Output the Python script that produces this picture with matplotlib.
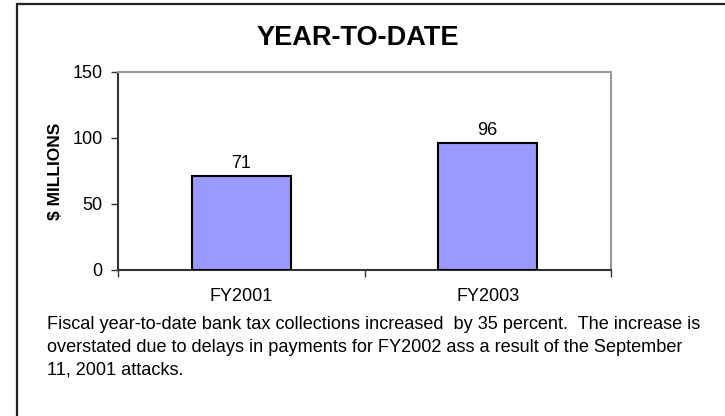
import matplotlib
matplotlib.use("Agg")
import matplotlib.pyplot as plt
from matplotlib.patches import Rectangle

plt.rcParams["font.family"] = ["Liberation Sans", "DejaVu Sans"]

# ── data ────────────────────────────────────────────────────────────────────
categories = ["FY2001", "FY2003"]
values = [71, 96]
y_ticks = [0, 50, 100, 150]

title = "YEAR-TO-DATE"
y_label = "$ MILLIONS"
caption = ("Fiscal year-to-date bank tax collections increased  by 35 percent.  The increase is\n"
           "overstated due to delays in payments for FY2002 ass a result of the September\n"
           "11, 2001 attacks.")

# ── figure ──────────────────────────────────────────────────────────────────
fig = plt.figure(figsize=(7.25, 4.16), dpi=100)
fig.patch.set_facecolor("white")

# outer frame (cut off at right and bottom like the original)
fig.patches.append(Rectangle((17 / 725, -0.2), 1.5, 1.2 - 4 / 416,
                             transform=fig.transFigure, fill=False,
                             edgecolor="#222222", linewidth=1.6, clip_on=False))

ax = fig.add_axes([118 / 725, 1 - 270 / 416, 493 / 725, 198 / 416])
x = range(len(categories))
ax.bar(x, values, width=0.4, color="#9999FF", edgecolor="black", linewidth=1.5, zorder=3)

for xi, v in zip(x, values):
    ax.annotate(f"{v}", (xi, v), xytext=(0, 3), textcoords="offset points",
                ha="center", va="bottom", fontsize=13)

ax.set_xlim(-0.5, len(categories) - 0.5)
ax.set_ylim(0, 150)
ax.set_yticks(y_ticks)
ax.set_xticks(list(x))
ax.set_xticklabels(categories, fontsize=13)
ax.tick_params(axis="x", length=0, pad=13)
ax.set_xticks([-0.5, 0.5, 1.5], minor=True)
ax.tick_params(axis="x", which="minor", length=5, width=1, color="#333333", direction="out")
ax.tick_params(axis="y", labelsize=13, length=5, width=1, color="#333333", pad=6)

ax.spines["left"].set_color("#333333")
ax.spines["bottom"].set_color("#333333")
ax.spines["left"].set_linewidth(1.5)
ax.spines["bottom"].set_linewidth(1.5)
ax.spines["top"].set_color("#9a9a9a")
ax.spines["right"].set_color("#9a9a9a")
ax.spines["top"].set_linewidth(1.5)
ax.spines["right"].set_linewidth(1.5)

ax.set_ylabel(y_label, fontsize=12.5, fontweight="bold", labelpad=7)

fig.text(358 / 725, 1 - 38 / 416, title, ha="center", va="center",
         fontsize=19.5, fontweight="bold")

fig.text(47 / 725, 1 - 316 / 416, caption, ha="left", va="top",
         fontsize=13.1, linespacing=1.43)

fig.savefig("out.png", dpi=100)
